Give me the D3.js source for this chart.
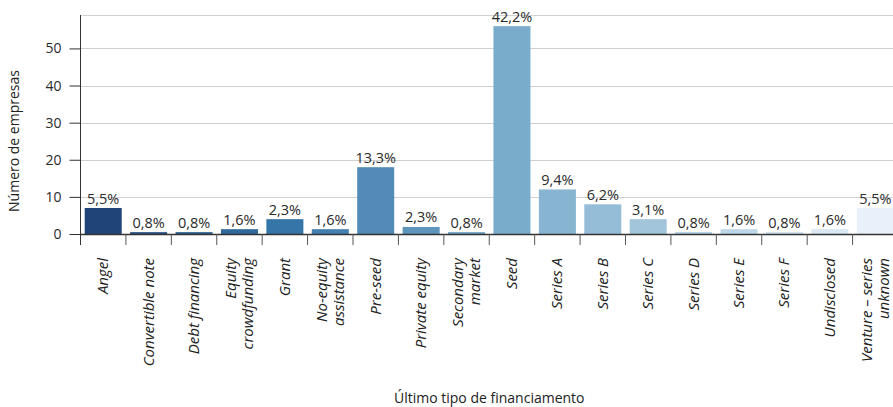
<!DOCTYPE html>
<html>
<head>
<meta charset="utf-8">
<script src="https://cdn.jsdelivr.net/npm/d3@7"></script>
<style>
  html, body { margin: 0; padding: 0; background: #fff; }
  svg { display: block; font-family: "Open Sans", "Noto Sans", sans-serif; }
</style>
</head>
<body>
<svg id="chart" width="893" height="407"></svg>
<script>
// Funding round categories (line breaks within a label are marked by "\n")
const categories = [
  "Angel", "Convertible note", "Debt financing", "Equity\ncrowdfunding", "Grant",
  "No-equity\nassistance", "Pre-seed", "Private equity", "Secondary\nmarket", "Seed",
  "Series A", "Series B", "Series C", "Series D", "Series E", "Series F",
  "Undisclosed", "Venture – series\nunknown"
];
// Number of companies per category
const companies = [7, 0.5, 0.5, 1.3, 4, 1.3, 18, 1.9, 0.5, 56, 12, 8, 4, 0.5, 1.3, 0.5, 1.3, 7];
// Share of companies, shown above each bar
const shareLabels = [
  "5,5%", "0,8%", "0,8%", "1,6%", "2,3%", "1,6%", "13,3%", "2,3%", "0,8%", "42,2%",
  "9,4%", "6,2%", "3,1%", "0,8%", "1,6%", "0,8%", "1,6%", "5,5%"
];
const yTicks = [0, 10, 20, 30, 40, 50];

const svg = d3.select("#chart");
const x0 = 80.5, x1 = 898, y0 = 234, yTop = 15;

const x = d3.scaleBand()
  .domain(categories)
  .range([x0, x1])
  .paddingInner(0.185)
  .paddingOuter(0.0925);

const y = d3.scaleLinear().domain([0, 59]).range([y0, yTop]);

const color = d3.scaleLinear()
  .domain([0, 4, 9, 17])
  .range(["#1f4477", "#3675a8", "#79abcb", "#e8f1f9"])
  .interpolate(d3.interpolateRgb);

// Gridlines
svg.append("g").selectAll("line")
  .data(yTicks.filter(d => d > 0).concat([59]))
  .join("line")
  .attr("x1", x0).attr("x2", 893)
  .attr("y1", d => Math.round(y(d)) + 0.5).attr("y2", d => Math.round(y(d)) + 0.5)
  .attr("stroke", "#d0d0d0").attr("stroke-width", 1.2);

// Bars
svg.append("g").selectAll("rect")
  .data(categories)
  .join("rect")
  .attr("x", d => x(d))
  .attr("width", x.bandwidth())
  .attr("y", (d, i) => y(companies[i]))
  .attr("height", (d, i) => y0 - y(companies[i]))
  .attr("fill", (d, i) => color(i));

// Value labels
svg.append("g").selectAll("text")
  .data(categories)
  .join("text")
  .attr("x", d => x(d) + x.bandwidth() / 2)
  .attr("y", (d, i) => y(companies[i]) - 4.5)
  .attr("text-anchor", "middle")
  .attr("font-size", 14.5)
  .attr("fill", "#2a2a2a")
  .text((d, i) => shareLabels[i]);

// Y axis
const yAxis = svg.append("g").attr("transform", `translate(${x0},0)`)
  .call(d3.axisLeft(y).tickValues(yTicks).tickSize(11).tickPadding(8));
yAxis.select(".domain").remove();
yAxis.selectAll(".tick line").attr("stroke", "#333");
yAxis.selectAll(".tick text").attr("font-size", 14).attr("fill", "#2a2a2a")
  .attr("font-family", "'Open Sans', sans-serif");
svg.append("line")
  .attr("x1", x0).attr("x2", x0).attr("y1", yTop).attr("y2", y0 + 11)
  .attr("stroke", "#333");

// X axis line and boundary ticks
svg.append("line")
  .attr("x1", x0).attr("x2", 893).attr("y1", y0 + 0.5).attr("y2", y0 + 0.5)
  .attr("stroke", "#333").attr("stroke-width", 1.3);
const gap = (x.step() - x.bandwidth()) / 2;
svg.append("g").selectAll("line")
  .data(categories.slice(1))
  .join("line")
  .attr("x1", d => x(d) - gap)
  .attr("x2", d => x(d) - gap)
  .attr("y1", y0).attr("y2", y0 + 11)
  .attr("stroke", "#555");

// Category labels, rotated
const catG = svg.append("g").selectAll("text")
  .data(categories)
  .join("text")
  .attr("transform", d => `translate(${x(d) + x.bandwidth() / 2},258) rotate(-90)`)
  .attr("text-anchor", "end")
  .attr("font-size", 15)
  .attr("font-style", "italic")
  .attr("fill", "#222");
catG.each(function (d) {
  const lines = d.split("\n");
  const t = d3.select(this);
  lines.forEach((ln, k) => {
    t.append("tspan")
      .attr("x", 0)
      .attr("y", (k - (lines.length - 1) / 2) * 16.5 + 5)
      .text(ln);
  });
});

// Axis titles
svg.append("text")
  .attr("transform", "translate(19,141) rotate(-90)")
  .attr("text-anchor", "middle")
  .attr("font-size", 14)
  .attr("fill", "#222")
  .text("Número de empresas");

svg.append("text")
  .attr("x", (x0 + x1) / 2).attr("y", 403)
  .attr("text-anchor", "middle")
  .attr("font-size", 14)
  .attr("fill", "#222")
  .text("Último tipo de financiamento");
</script>
</body>
</html>
